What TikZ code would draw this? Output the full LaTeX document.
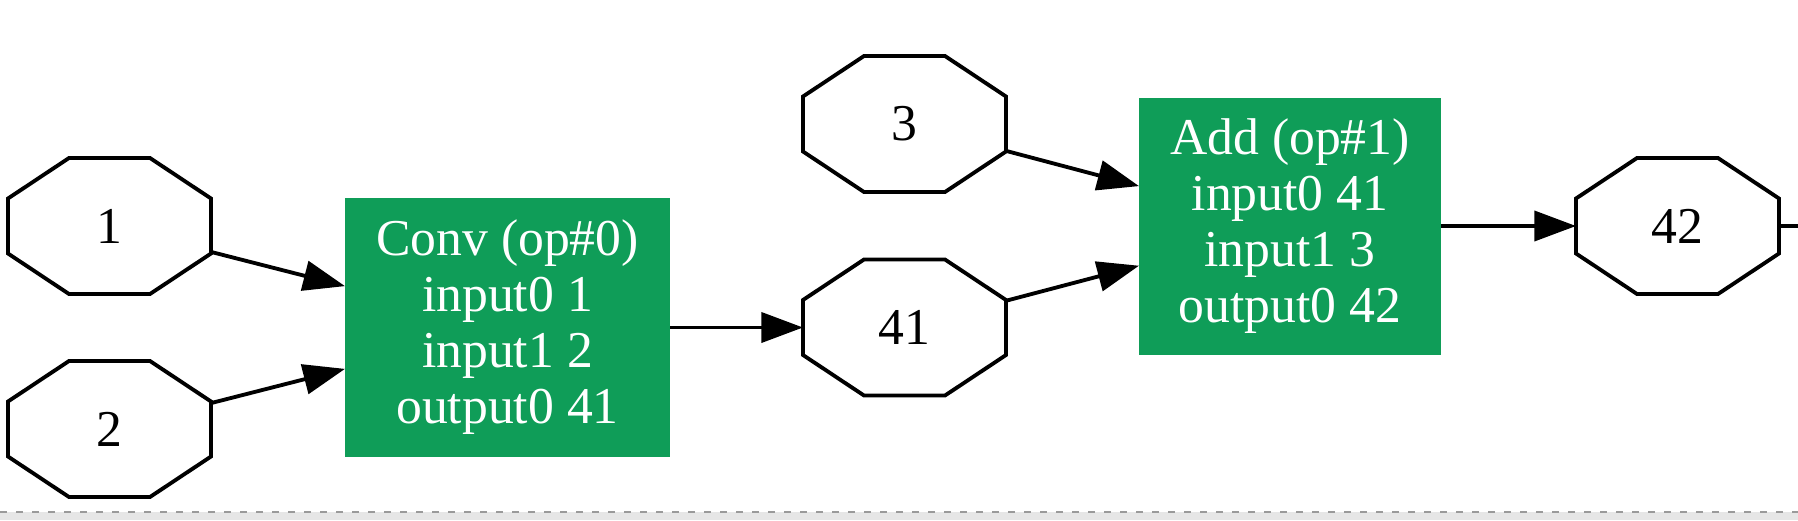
\documentclass[tikz,border=0pt]{standalone}
\usepackage{fontspec}
\setmainfont{Liberation Serif}
\usetikzlibrary{arrows.meta}
\definecolor{opgreen}{HTML}{0F9D58}
\definecolor{stripgray}{HTML}{E6E6E6}
\definecolor{dashgray}{HTML}{9A9A9A}
\begin{document}
\begin{tikzpicture}[x=0.3pt,y=-0.3pt,
  every node/.style={font=\fontsize{15.5}{16.8}\selectfont},
  tensor/.style={rectangle, minimum width=60.9pt, minimum height=40.8pt, inner sep=0pt, outer sep=0pt},
  opbox/.style={rectangle, fill=opgreen, text=white, align=center, inner sep=0pt, outer sep=0pt},
  octline/.style={line width=1.15pt, line join=miter},
  flow/.style={line width=1.15pt, -{Triangle[length=12.5pt,width=9pt]}},
  plainflow/.style={line width=1.15pt},
]
\useasboundingbox (0,0) rectangle (1798,520);
\fill[stripgray] (0,512) rectangle (1798,520);
\draw[dashgray, line width=0.45pt, dash pattern=on 2.1pt off 2.7pt] (0,512) -- (1798,512);

\node[tensor] (t1) at (109.5,226) {1};
\node[tensor] (t2) at (109.5,429) {2};
\node[tensor] (t3) at (904.5,124) {3};
\node[tensor] (t41) at (904.5,327.5) {41};
\node[tensor] (t42) at (1677.5,226) {42};

\node[opbox, minimum width=97.5pt, minimum height=77.7pt] (conv) at (507.5,327.5)
  {Conv (op\#0)\\input0 1\\input1 2\\output0 41};
\node[opbox, minimum width=90.6pt, minimum height=77.1pt] (add) at (1290,226)
  {Add (op\#1)\\input0 41\\input1 3\\output0 42};

\foreach \n in {t1,t2,t3,t41,t42}
  \draw[octline] ([shift={(-40.5,-68)}]\n.center) -- ([shift={(40.5,-68)}]\n.center)
    -- ([shift={(101.5,-27.5)}]\n.center) -- ([shift={(101.5,27.5)}]\n.center)
    -- ([shift={(40.5,68)}]\n.center) -- ([shift={(-40.5,68)}]\n.center)
    -- ([shift={(-101.5,27.5)}]\n.center) -- ([shift={(-101.5,-27.5)}]\n.center) -- cycle;

\coordinate (out42) at (1798,226);

\draw[flow] (t1) -- (conv);
\draw[flow] (t2) -- (conv);
\draw[flow] (conv) -- (t41);
\draw[flow] (t3) -- (add);
\draw[flow] (t41) -- (add);
\draw[flow] (add) -- (t42);
\draw[plainflow] (t42) -- (out42);
\end{tikzpicture}
\end{document}
